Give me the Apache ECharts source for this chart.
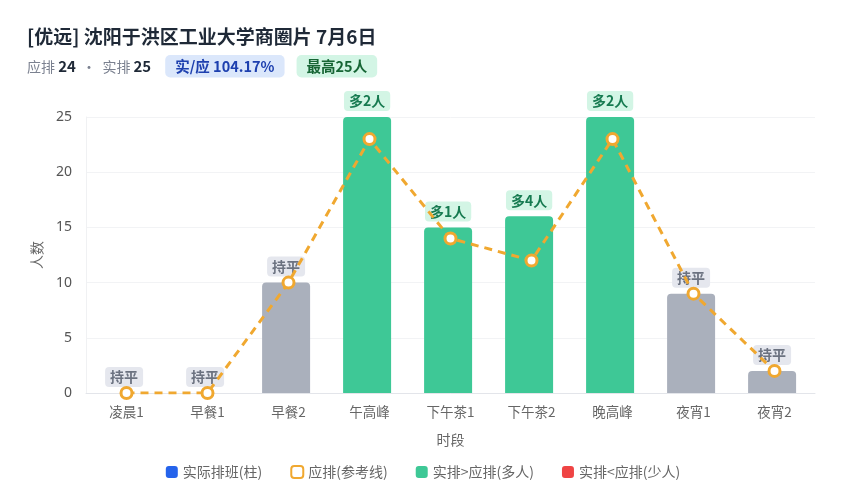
<!DOCTYPE html>
<html><head><meta charset="utf-8">
<script src="https://cdn.jsdelivr.net/npm/echarts@6/dist/echarts.min.js"></script>
<style>html,body{margin:0;padding:0;background:#fff}#c{width:846px;height:500px}</style>
</head><body><div id="c"></div>
<script>
const titleText = '[优远] 沈阳于洪区工业大学商圈片 7月6日';
const planTotal = 24;
const actualTotal = 25;
const ratioText = '实/应 104.17%';
const peakText = '最高25人';
const categories = ['凌晨1','早餐1','早餐2','午高峰','下午茶1','下午茶2','晚高峰','夜宵1','夜宵2'];
const actual = [0, 0, 10, 25, 15, 16, 25, 9, 2];
const planned = [0, 0, 10, 23, 14, 12, 23, 9, 2];
const yTicks = [0, 5, 10, 15, 20, 25];
const legendNames = ['实际排班(柱)', '应排(参考线)', '实排>应排(多人)', '实排<应排(少人)'];

const GREEN = '#3ec896', GREY = '#aab0bc', RED = '#ef4444', BLUE = '#2563eb', ORANGE = '#f0a830';

const barData = actual.map((v, i) => {
  const d = v - planned[i];
  let color = GREY, lbl = '持平', lblBg = '#e5e7ee', lblColor = '#6b7280';
  if (d > 0) { color = GREEN; lbl = '多' + d + '人'; lblBg = '#d3f5e5'; lblColor = '#167a50'; }
  else if (d < 0) { color = RED; lbl = '少' + (-d) + '人'; lblBg = '#fde2e2'; lblColor = '#b91c1c'; }
  return {
    value: v,
    itemStyle: { color: color, borderRadius: [4, 4, 0, 0] },
    label: { formatter: lbl, backgroundColor: lblBg, color: lblColor }
  };
});

const chart = echarts.init(document.getElementById('c'));
chart.setOption({
  backgroundColor: '#fff',
  title: {
    left: 22, top: 22,
    text: titleText,
    textStyle: { fontSize: 19, fontWeight: 'bold', color: '#1f2937', fontFamily: 'Noto Sans CJK SC' },
    subtext: '{l|应排 }{v|' + planTotal + '}{l|  ·  实排 }{v|' + actualTotal + '}{s|}{b|' + ratioText + '}{t|}{g|' + peakText + '}',
    itemGap: 9,
    subtextStyle: {
      fontFamily: 'Noto Sans CJK SC',
      rich: {
        l: { fontSize: 14, color: '#7b8190', fontFamily: 'Noto Sans CJK SC' },
        v: { fontSize: 15, color: '#1f2937', fontWeight: 'bold', fontFamily: 'Noto Sans CJK SC' },
        s: { width: 14 },
        t: { width: 12 },
        b: { fontSize: 14.5, color: '#1e40af', fontWeight: 'bold', backgroundColor: '#dbe7fb', padding: [4, 10], borderRadius: 5, fontFamily: 'Noto Sans CJK SC' },
        g: { fontSize: 14.5, color: '#166534', fontWeight: 'bold', backgroundColor: '#d3f5e5', padding: [4, 10], borderRadius: 5, fontFamily: 'Noto Sans CJK SC' }
      }
    }
  },
  legend: {
    bottom: 16, left: 'center',
    itemWidth: 12, itemHeight: 12, itemGap: 28,
    icon: 'roundRect',
    textStyle: { color: '#666', fontSize: 14, fontFamily: 'Noto Sans CJK SC' },
    data: [
      { name: legendNames[0], itemStyle: { color: BLUE } },
      { name: legendNames[1], itemStyle: { color: '#fff', borderColor: ORANGE, borderWidth: 2 } },
      { name: legendNames[2], itemStyle: { color: GREEN } },
      { name: legendNames[3], itemStyle: { color: RED } }
    ]
  },
  grid: { left: 86, right: 31, top: 117, bottom: 107 },
  xAxis: {
    type: 'category', data: categories,
    name: '时段', nameLocation: 'middle', nameGap: 40,
    nameTextStyle: { color: '#666', fontSize: 14, fontFamily: 'Noto Sans CJK SC' },
    axisLine: { lineStyle: { color: '#e3e5ea' } },
    axisTick: { show: false },
    axisLabel: { color: '#666', fontSize: 13.5, margin: 12, fontFamily: 'Noto Sans CJK SC' }
  },
  yAxis: {
    type: 'value', min: yTicks[0], max: yTicks[yTicks.length - 1], interval: yTicks[1] - yTicks[0],
    name: '人数', nameLocation: 'middle', nameGap: 42, nameRotate: 90,
    nameTextStyle: { color: '#666', fontSize: 14, fontFamily: 'Noto Sans CJK SC' },
    axisLine: { show: true, lineStyle: { color: '#f0f1f3' } },
    axisTick: { show: false },
    axisLabel: { color: '#555', fontSize: 14, margin: 14, fontFamily: 'Noto Sans' },
    splitLine: { lineStyle: { color: '#f2f3f5' } }
  },
  series: [
    {
      name: legendNames[0], type: 'bar', data: barData, barWidth: 48,
      itemStyle: { color: BLUE },
      label: {
        show: true, position: 'top', distance: 6,
        fontSize: 14, fontWeight: 'bold', padding: [3, 5], borderRadius: 4,
        fontFamily: 'Noto Sans CJK SC'
      },
      z: 2
    },
    {
      name: legendNames[1], type: 'line', data: planned,
      symbol: 'circle', symbolSize: 11,
      lineStyle: { color: ORANGE, width: 3, type: [8, 6] },
      itemStyle: { color: '#fff', borderColor: ORANGE, borderWidth: 3 },
      z: 5
    },
    { name: legendNames[2], type: 'bar', data: [], itemStyle: { color: GREEN } },
    { name: legendNames[3], type: 'bar', data: [], itemStyle: { color: RED } }
  ]
});
</script>
</body></html>
